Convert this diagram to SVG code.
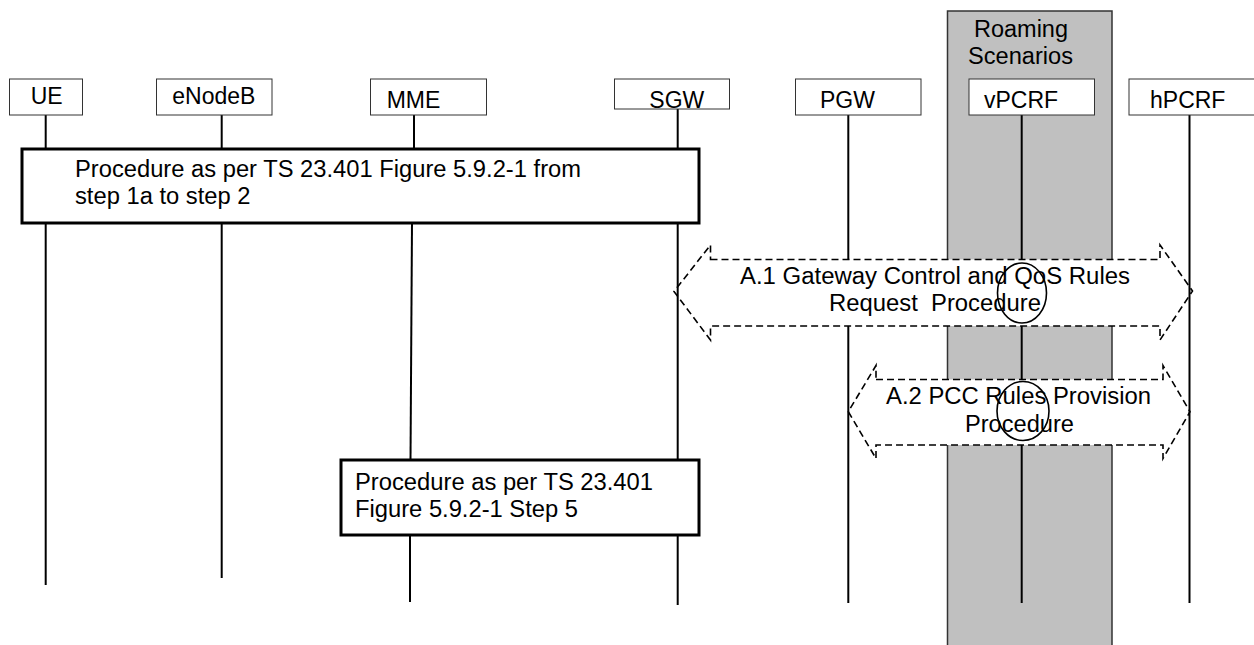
<svg xmlns="http://www.w3.org/2000/svg" width="1254" height="645" viewBox="0 0 1254 645">
<style>
.t{font-family:"Liberation Sans",Arial,sans-serif;font-size:23px;fill:#000}
.nb{fill:#fff;stroke:#333;stroke-width:1}
.pb{fill:#fff;stroke:#000;stroke-width:3}
.ll{stroke:#000;stroke-width:2;fill:none}
.dash{fill:none;stroke:#000;stroke-width:1.6;stroke-dasharray:7 4}
.body{fill:#fff;stroke:none}
.circ{fill:none;stroke:#000;stroke-width:1.6}
</style>
<rect id="roaming-area" x="947.5" y="11" width="164.5" height="640" fill="#c0c0c0" stroke="#333" stroke-width="1.5"/>
<text class="t" x="974" y="37" textLength="94" lengthAdjust="spacingAndGlyphs">Roaming</text>
<text class="t" x="968" y="64" textLength="105" lengthAdjust="spacingAndGlyphs">Scenarios</text>
<g id="connectors">
<line class="ll" x1="45.7" y1="115" x2="45.7" y2="150"/>
<line class="ll" x1="45.7" y1="222" x2="45.7" y2="585"/>
<line class="ll" x1="221.7" y1="115" x2="221.7" y2="150"/>
<line class="ll" x1="221.7" y1="222" x2="221.7" y2="578"/>
<line class="ll" x1="414" y1="115" x2="414" y2="150"/>
<line class="ll" x1="412" y1="222" x2="410.5" y2="461"/>
<line class="ll" x1="410" y1="534" x2="410" y2="602"/>
<line class="ll" x1="677.7" y1="109" x2="677.7" y2="150"/>
<line class="ll" x1="677.7" y1="222" x2="677.7" y2="461"/>
<line class="ll" x1="677.7" y1="534" x2="677.7" y2="605"/>
<line class="ll" x1="848.3" y1="115" x2="848.3" y2="603"/>
<line class="ll" x1="1021.7" y1="115" x2="1021.7" y2="603"/>
<line class="ll" x1="1189.5" y1="115" x2="1189.5" y2="603"/>
</g>
<g id="node-ue">
<rect class="nb" x="9.5" y="79" width="73" height="36"/>
<text class="t" x="30.7" y="104">UE</text>
</g>
<g id="node-enodeb">
<rect class="nb" x="156.5" y="79" width="115.5" height="36"/>
<text class="t" x="172.3" y="104">eNodeB</text>
</g>
<g id="node-mme">
<rect class="nb" x="370.5" y="79" width="116" height="36"/>
<text class="t" x="386.7" y="108">MME</text>
</g>
<g id="node-sgw">
<rect class="nb" x="614.5" y="79" width="115" height="30"/>
<text class="t" x="649.3" y="108">SGW</text>
</g>
<g id="node-pgw">
<rect class="nb" x="795.5" y="79" width="125.5" height="36"/>
<text class="t" x="820" y="108">PGW</text>
</g>
<g id="node-vpcrf">
<rect class="nb" x="969" y="79" width="125.5" height="36"/>
<text class="t" x="984" y="108">vPCRF</text>
</g>
<g id="node-hpcrf">
<rect class="nb" x="1129" y="79" width="130" height="36"/>
<text class="t" x="1150" y="108">hPCRF</text>
</g>
<g id="proc-1">
<rect class="pb" x="22" y="149" width="677" height="74"/>
<text class="t" x="75" y="177" textLength="506" lengthAdjust="spacingAndGlyphs">Procedure as per TS 23.401 Figure 5.9.2-1 from</text>
<text class="t" x="75" y="204" textLength="175.5" lengthAdjust="spacingAndGlyphs">step 1a to step 2</text>
</g>
<g id="proc-5">
<rect class="pb" x="341" y="460" width="358" height="75"/>
<text class="t" x="355" y="490" textLength="298" lengthAdjust="spacingAndGlyphs">Procedure as per TS 23.401</text>
<text class="t" x="355" y="517" textLength="223" lengthAdjust="spacingAndGlyphs">Figure 5.9.2-1 Step 5</text>
</g>
<g id="proc-a1">
<rect class="body" x="710.5" y="259.5" width="449.5" height="66.5"/>
<path class="dash" d="M710.5 259.5 H1160 V245 L1192.5 291 L1160 340 V326 H710.5 V340 L674 291.5 L710.5 245 Z"/>
<ellipse class="circ" cx="1022" cy="293" rx="24.5" ry="30"/>
<text class="t" x="740" y="284" textLength="390" lengthAdjust="spacingAndGlyphs">A.1 Gateway Control and QoS Rules</text>
<text class="t" x="829" y="311" textLength="212" lengthAdjust="spacingAndGlyphs" xml:space="preserve" style="white-space:pre">Request  Procedure</text>
</g>
<g id="proc-a2">
<rect class="body" x="876" y="379.5" width="287" height="65.5"/>
<path class="dash" d="M876 379.5 H1163 V365.5 L1190 411.7 L1163 458.5 V445 H876 V458.5 L848.3 411.7 L876 365.5 Z"/>
<ellipse class="circ" cx="1023" cy="411" rx="26" ry="29.5"/>
<text class="t" x="886" y="404" textLength="265" lengthAdjust="spacingAndGlyphs">A.2 PCC Rules Provision</text>
<text class="t" x="965" y="432" textLength="109" lengthAdjust="spacingAndGlyphs">Procedure</text>
</g>
</svg>
